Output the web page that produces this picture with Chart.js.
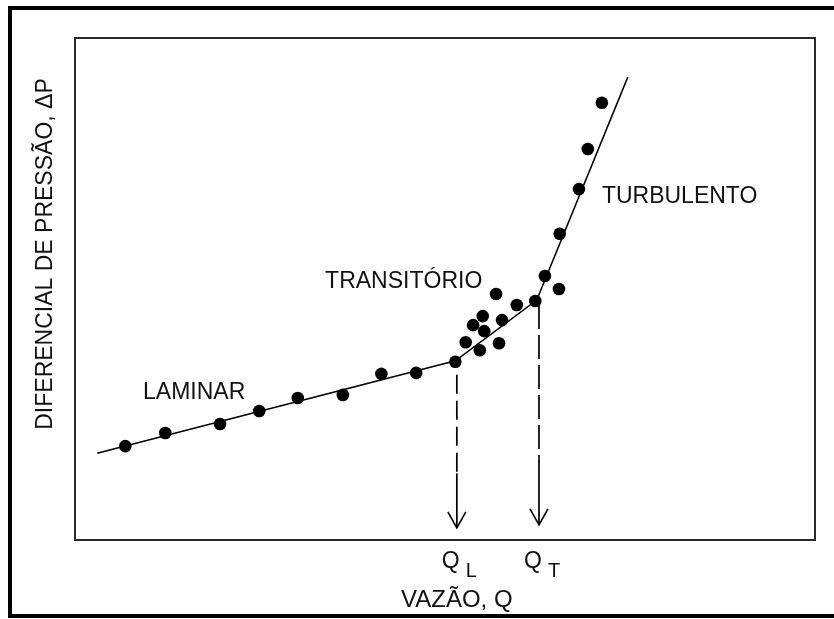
<!DOCTYPE html>
<html>
<head>
<meta charset="utf-8">
<title>Vazão x Diferencial de pressão</title>
<script src="https://cdn.jsdelivr.net/npm/chart.js@4.4.1/dist/chart.umd.min.js"></script>
<style>
  html, body { margin: 0; padding: 0; background: #fff; overflow: hidden; }
  canvas { display: block; }
</style>
</head>
<body>
<canvas id="flowChart" width="834" height="619"></canvas>
<script>
// measured points (arbitrary units, 0-100 on both axes)
const lamX = [6.8, 12.2, 19.6, 24.9, 30.1, 36.2, 41.4, 46.1, 51.4];
const lamY = [18.7, 21.3, 23.1, 25.7, 28.3, 28.9, 33.1, 33.3, 35.5];
const transX = [52.8, 54.7, 53.8, 55.3, 55.1, 56.9, 57.3, 57.7, 59.7, 62.2, 65.4];
const transY = [39.4, 37.8, 42.8, 41.6, 44.6, 49.0, 39.2, 43.8, 46.8, 47.6, 50.0];
const turbX = [63.5, 65.5, 68.1, 69.3, 71.2];
const turbY = [52.6, 61.0, 69.9, 77.9, 87.1];

// fitted straight segments (laminar / transition / turbulent)
const fitX = [3.0, 51.4, 62.4, 74.7];
const fitY = [17.3, 35.7, 47.8, 92.2];

// critical flow rates and their drop lines (top, end of dashes, arrow tip)
const qL = 51.6;
const qT = 62.7;
const qLDrop = [32.9, 13.3, 2.4];
const qTDrop = [46.8, 16.3, 3.0];

const regimeLabels = ['LAMINAR', 'TRANSITÓRIO', 'TURBULENTO'];
const xTitle = 'VAZÃO, Q';
const yTitle = 'DIFERENCIAL DE PRESSÃO, ΔP';

function toPoints(xs, ys) {
  return xs.map((x, i) => ({ x: x, y: ys[i] }));
}

function dropLine(label, q, ys, dash) {
  return {
    label: label,
    data: toPoints(ys.map(() => q), ys),
    showLine: true,
    borderColor: '#000',
    borderWidth: 1.7,
    borderDash: dash,
    pointRadius: 0,
    order: 3
  };
}

const FONT = '"Liberation Sans", Arial, sans-serif';

const decorPlugin = {
  id: 'decor',
  beforeDraw(chart) {
    const ctx = chart.ctx;
    const a = chart.chartArea;
    ctx.save();
    ctx.fillStyle = '#fff';
    ctx.fillRect(0, 0, chart.width, chart.height);
    // heavy outer frame (left, top, bottom)
    ctx.fillStyle = '#000';
    ctx.fillRect(8, 6, chart.width, 4);
    ctx.fillRect(8, 6, 4, 612);
    ctx.fillRect(8, 614, chart.width, 4);
    // plot frame
    ctx.strokeStyle = '#2a2a2a';
    ctx.lineWidth = 2;
    ctx.strokeRect(a.left, a.top, a.right - a.left, a.bottom - a.top);
    ctx.restore();
  },
  afterDatasetsDraw(chart) {
    const ctx = chart.ctx;
    const xs = chart.scales.x;
    const ys = chart.scales.y;
    ctx.save();
    // arrow heads
    ctx.strokeStyle = '#000';
    ctx.lineWidth = 1.6;
    [[qL, qLDrop[2]], [qT, qTDrop[2]]].forEach(([q, yv]) => {
      const px = xs.getPixelForValue(q);
      const py = ys.getPixelForValue(yv);
      ctx.beginPath();
      ctx.moveTo(px - 9, py - 16);
      ctx.lineTo(px, py);
      ctx.lineTo(px + 9, py - 16);
      ctx.stroke();
    });

    ctx.fillStyle = '#111';
    ctx.font = '23px ' + FONT;
    ctx.textBaseline = 'alphabetic';
    ctx.textAlign = 'left';
    ctx.fillText(regimeLabels[0], xs.getPixelForValue(9.2), ys.getPixelForValue(28.1));
    ctx.fillText(regimeLabels[1], xs.getPixelForValue(33.8), ys.getPixelForValue(50.2));
    ctx.fillText(regimeLabels[2], xs.getPixelForValue(71.2), ys.getPixelForValue(67.1));

    // Q_L and Q_T under the plot
    const base = chart.chartArea.bottom + 28;
    [[qL, 'L'], [qT, 'T']].forEach(([q, sub]) => {
      const px = xs.getPixelForValue(q);
      ctx.font = '23px ' + FONT;
      ctx.fillText('Q', px - 15, base);
      ctx.font = '20px ' + FONT;
      ctx.fillText(sub, px + 9, base + 9);
    });

    ctx.font = '24px ' + FONT;
    ctx.fillText(xTitle, 401, chart.chartArea.bottom + 67);

    ctx.font = '23px ' + FONT;
    ctx.translate(52, 254);
    ctx.rotate(-Math.PI / 2);
    ctx.textAlign = 'center';
    ctx.fillText(yTitle, 0, 0);
    ctx.restore();
  }
};

new Chart(document.getElementById('flowChart').getContext('2d'), {
  type: 'scatter',
  data: {
    datasets: [{
      label: 'medidas',
      data: toPoints(lamX.concat(transX, turbX), lamY.concat(transY, turbY)),
      backgroundColor: '#000',
      borderWidth: 0,
      pointRadius: 6.3,
      order: 1
    }, {
      label: 'ajuste',
      data: toPoints(fitX, fitY),
      showLine: true,
      borderColor: '#000',
      borderWidth: 1.5,
      pointRadius: 0,
      order: 2
    },
    dropLine('QL tracejado', qL, qLDrop.slice(0, 2), [19, 7]),
    dropLine('QL', qL, qLDrop.slice(1), []),
    dropLine('QT tracejado', qT, qTDrop.slice(0, 2), [24, 6]),
    dropLine('QT', qT, qTDrop.slice(1), [])]
  },
  options: {
    responsive: false,
    animation: false,
    layout: { padding: { left: 75, top: 38, right: 19, bottom: 79 } },
    plugins: {
      legend: { display: false },
      tooltip: { enabled: false }
    },
    scales: {
      x: { type: 'linear', min: 0, max: 100, display: false },
      y: { type: 'linear', min: 0, max: 100, display: false }
    }
  },
  plugins: [decorPlugin]
});
</script>
</body>
</html>
